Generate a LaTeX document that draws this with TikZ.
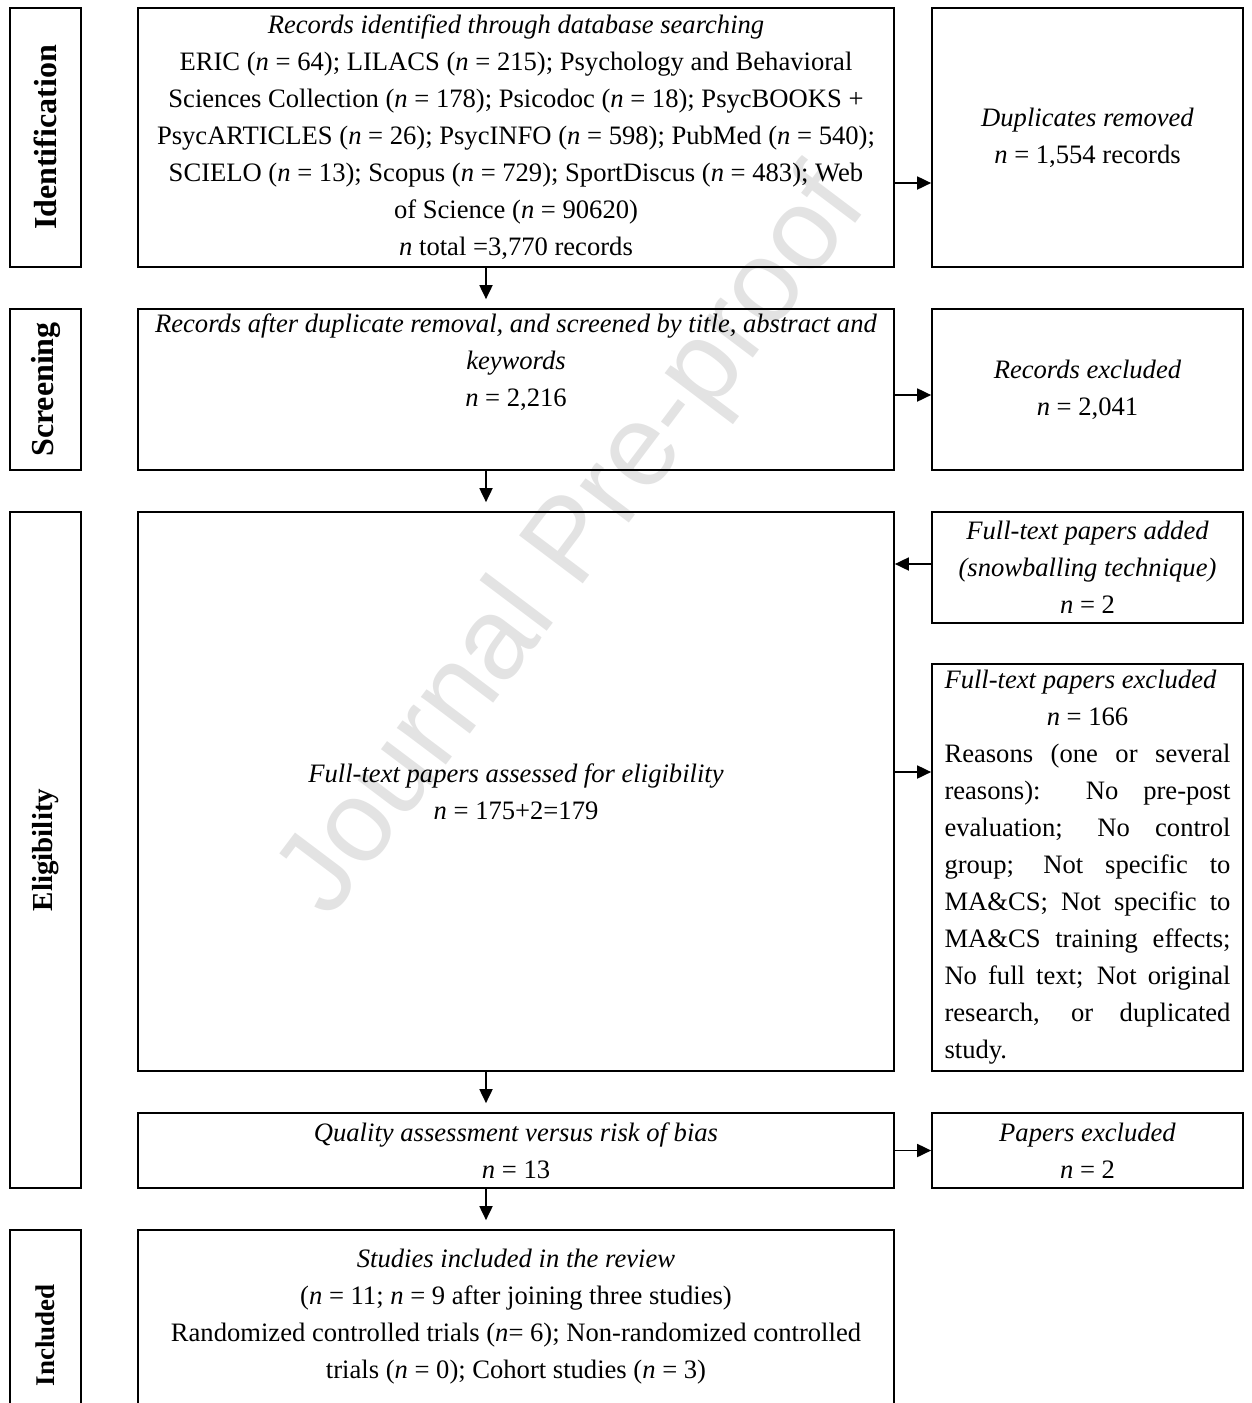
\documentclass[tikz,border=0pt]{standalone}
\usepackage{fontspec}
\setmainfont{Liberation Serif}
\newfontfamily\wmfont{Liberation Sans}
\usetikzlibrary{arrows.meta,positioning}

\begin{document}
\begin{tikzpicture}[x=1pt, y=-1pt,
    every node/.append style={font=\fontsize{26.6}{37}\selectfont},
    box/.style={draw, line width=1.7pt, inner sep=0pt, align=center},
    mainbox/.style={box, minimum width=756pt},
    sidebox/.style={box, minimum width=311pt},
    phase/.style={box, rotate=90, minimum height=71pt,
        font=\fontsize{32}{38}\selectfont\bfseries},
    flow/.style={-{Triangle[length=14pt, width=13pt]}, line width=1.8pt}]
\useasboundingbox (0,0) rectangle (1251,1403);
\clip (0,0) rectangle (1251,1403);

% watermark
\node (wmark) [rotate=53, text=black!11, font=\wmfont\fontsize{116}{116}\selectfont]
    at (575,545) {Journal Pre-proof};

% phases
\node (idlab)  [phase, minimum width=259pt] at (45.5,137.5) {Identification};
\node (scrlab) [phase, minimum width=161pt] at (45.5,389.5) {Screening};
\node (elilab) [phase, minimum width=676pt, font=\fontsize{29}{34}\selectfont\bfseries]
    at (45.5,850) {Eligibility};
\node (inclab) [phase, minimum width=210pt, font=\fontsize{27}{32}\selectfont\bfseries]
    at (45.5,1335) {Included};

% main column
\node (recid) [mainbox, minimum height=259pt] at (516,137.5) {%
    \textit{Records identified through database searching}\\
    ERIC (\textit{n} = 64); LILACS (\textit{n} = 215); Psychology and Behavioral\\
    Sciences Collection (\textit{n} = 178); Psicodoc (\textit{n} = 18); PsycBOOKS +\\
    PsycARTICLES (\textit{n} = 26); PsycINFO (\textit{n} = 598); PubMed (\textit{n} = 540);\\
    SCIELO (\textit{n} = 13); Scopus (\textit{n} = 729); SportDiscus (\textit{n} = 483); Web\\
    of Science (\textit{n} = 90620)\\
    \textit{n} total =3,770 records};
\node (screen) [mainbox, minimum height=161pt] at (516,389.5) {};
\node (screentxt) [align=center] at (516,362) {%
    \textit{Records after duplicate removal, and screened by title, abstract and}\\
    \textit{keywords}\\
    \textit{n} = 2,216};
\node (fulltext) [mainbox, minimum height=559pt] at (516,791.5) {%
    \textit{Full-text papers assessed for eligibility}\\
    \textit{n} = 175+2=179};
\node (quality) [mainbox, minimum height=75pt] at (516,1150.5) {%
    \textit{Quality assessment versus risk of bias}\\
    \textit{n} = 13};
\node (studies) [mainbox, minimum height=210pt] at (516,1335) {};
\node (studiestxt) [align=center] at (516,1317) {%
    \textit{Studies included in the review}\\
    (\textit{n} = 11; \textit{n} = 9 after joining three studies)\\
    Randomized controlled trials (\textit{n}= 6); Non-randomized controlled\\
    trials (\textit{n} = 0); Cohort studies (\textit{n} = 3)};

% side column
\node (dupl) [sidebox, minimum height=259pt] at (1087.5,137.5) {%
    \textit{Duplicates removed}\\
    \textit{n} = 1,554 records};
\node (recexc) [sidebox, minimum height=161pt] at (1087.5,389.5) {%
    \textit{Records excluded}\\
    \textit{n} = 2,041};
\node (snowb) [sidebox, minimum height=111pt] at (1087.5,567.5) {%
    \textit{Full-text papers added}\\
    \textit{(snowballing technique)}\\
    \textit{n} = 2};
\node (ftexc) [sidebox, minimum height=407pt, text width=286pt, align=justify]
    at (1087.5,867.5) {%
    \parindent=0pt
    \textit{Full-text papers excluded}\par
    {\centering \textit{n} = 166\par}
    Reasons (one or several\linebreak
    reasons): No pre-post\linebreak
    evaluation; No control\linebreak
    group; Not specific to\linebreak
    MA\&CS; Not specific to\linebreak
    MA\&CS training effects;\linebreak
    No full text; Not original\linebreak
    research, or duplicated\linebreak
    study.\par};
\node (papexc) [sidebox, minimum height=75pt] at (1087.5,1150.5) {%
    \textit{Papers excluded}\\
    \textit{n} = 2};

% connectors
\coordinate (dx) at (486,0);
\coordinate (ya) at (0,183);
\coordinate (yb) at (0,395);
\coordinate (yc) at (0,564);
\coordinate (yd) at (0,772);
\draw[flow, shorten >=9pt] (recid.south -| dx) -- (screen.north -| dx);
\draw[flow, shorten >=9pt] (screen.south -| dx) -- (fulltext.north -| dx);
\draw[flow, shorten >=9pt] (fulltext.south -| dx) -- (quality.north -| dx);
\draw[flow, shorten >=9pt] (quality.south -| dx) -- (studies.north -| dx);
\draw[flow] (recid.east |- ya) -- (dupl.west |- ya);
\draw[flow] (screen.east |- yb) -- (recexc.west |- yb);
\draw[flow] (snowb.west |- yc) -- (fulltext.east |- yc);
\draw[flow] (fulltext.east |- yd) -- (ftexc.west |- yd);
\draw[flow] (quality.east) -- (papexc.west);
\end{tikzpicture}
\end{document}
